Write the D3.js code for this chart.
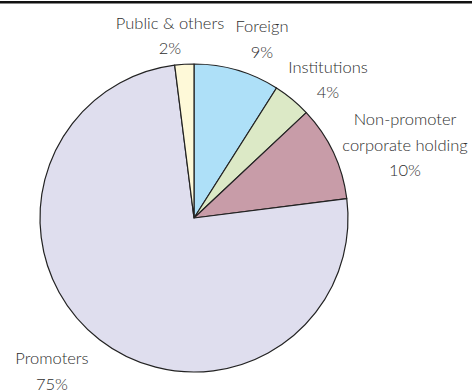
<!DOCTYPE html>
<html>
<head>
<meta charset="utf-8">
<script src="https://cdn.jsdelivr.net/npm/d3@7/dist/d3.min.js"></script>
<style>
  html, body { margin: 0; padding: 0; background: #fff; }
  svg { display: block; }
  .lbl { font-family: Lato, "Open Sans", sans-serif; font-size: 16.5px; font-weight: 300; fill: #2e2e2e; }
</style>
</head>
<body>
<script>
// Shareholding pattern (per cent)
const categories = ["Foreign", "Institutions", "Non-promoter corporate holding", "Promoters", "Public & others"];
const shares = [9, 4, 10, 75, 2];
const labelLines = [
  ["Foreign", "9%"],
  ["Institutions", "4%"],
  ["Non-promoter", "corporate holding", "10%"],
  ["Promoters", "75%"],
  ["Public & others", "2%"]
];
const sliceColors = ["#aee0f8", "#dce9c6", "#c89ca8", "#dfdeee", "#fef9d8"];

// Label anchor points (centre x, first baseline y)
const labelAnchors = [
  [262, 32],
  [328, 72.5],
  [405, 125],
  [52, 364],
  [170, 28.5]
];
const lineHeight = 25.5;

const W = 472, H = 392;
const cx = 194, cy = 218, radius = 154;

const svg = d3.select("body").append("svg")
  .attr("width", W).attr("height", H);

// rule across the top
svg.append("rect")
  .attr("x", 0).attr("y", 1)
  .attr("width", W).attr("height", 2.5)
  .attr("fill", "#111");

const pie = d3.pie().sort(null).value(d => d)(shares);
const arc = d3.arc().innerRadius(0).outerRadius(radius);

const g = svg.append("g").attr("transform", `translate(${cx},${cy})`);
g.selectAll("path")
  .data(pie)
  .join("path")
  .attr("d", arc)
  .attr("fill", (d, i) => sliceColors[i])
  .attr("stroke", "#222")
  .attr("stroke-width", 1.2)
  .attr("stroke-linejoin", "round");

const labels = svg.append("g");
categories.forEach((c, i) => {
  const [x, y] = labelAnchors[i];
  const t = labels.append("text")
    .attr("class", "lbl")
    .attr("text-anchor", "middle");
  labelLines[i].forEach((line, j) => {
    t.append("tspan")
      .attr("x", x)
      .attr("y", y + j * lineHeight)
      .text(line);
  });
});
</script>
</body>
</html>
